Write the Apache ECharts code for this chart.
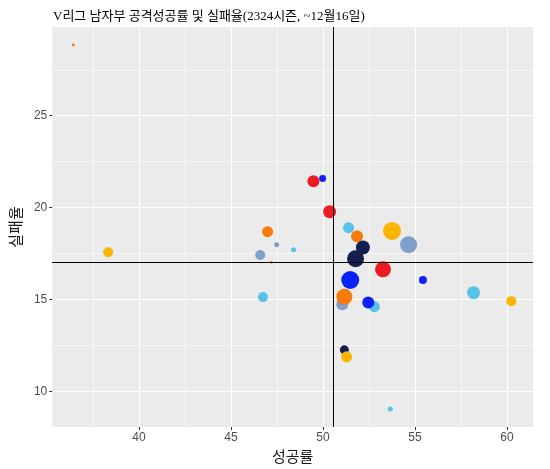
<!DOCTYPE html>
<html lang="ko">
<head>
    <meta charset="UTF-8">
    <title>V리그 남자부 공격성공률 및 실패율</title>
    <style>
        html, body { margin: 0; padding: 0; background: #fff; }
        #chart { width: 550px; height: 469px; }
    </style>
</head>
<body>
<div id="chart"></div>
<script src="https://cdn.jsdelivr.net/npm/echarts@6/dist/echarts.min.js"></script>
<script>
    // 선수별 공격 성공률 / 실패율 / 시도
    var team = ['OK', 'KB', 'KEPCO', 'SAMSUNG', 'KEPCO', 'OK', 'KAL', 'WOORI', 'KAL', 'OK',
        'WOORI', 'OK', 'KB', 'KAL', 'HYUNDAI', 'HYUNDAI', 'KEPCO', 'SAMSUNG', 'SAMSUNG', 'WOORI',
        'KAL', 'OK', 'WOORI', 'SAMSUNG', 'HYUNDAI', 'KB', 'WOORI', 'WOORI', 'KB'];
    var success = [36.43, 38.33, 49.48, 49.98, 50.36, 46.99, 47.48, 48.40, 46.59, 47.19,
        51.39, 51.85, 53.75, 54.65, 52.17, 51.77, 53.26, 55.43, 51.48, 46.74,
        51.05, 51.16, 52.79, 52.46, 51.16, 51.28, 53.66, 58.18, 60.23];
    var fail = [28.85, 17.57, 21.43, 21.58, 19.78, 18.69, 17.98, 17.71, 17.42, 17.02,
        18.91, 18.44, 18.73, 17.98, 17.83, 17.22, 16.64, 16.06, 16.06, 15.13,
        14.74, 15.15, 14.61, 14.83, 12.26, 11.88, 9.04, 15.37, 14.91];
    var attempts = [11, 123, 178, 60, 209, 149, 31, 31, 123, 11,
        149, 178, 400, 357, 242, 357, 316, 79, 400, 123,
        178, 316, 149, 178, 100, 149, 31, 209, 123];
    // 평균선
    var meanSuccess = 50.58;
    var meanFail = 17.0;

    var teamColor = {
        'KEPCO': '#ED1C24',
        'SAMSUNG': '#0A22F5',
        'HYUNDAI': '#141E50',
        'OK': '#F77B0B',
        'WOORI': '#57C1E8',
        'KAL': '#7EA1CC',
        'KB': '#F9B501'
    };

    var points = [];
    for (var i = 0; i < success.length; i++) {
        points.push([success[i], fail[i], attempts[i], team[i]]);
    }

    var myChart = echarts.init(document.getElementById('chart'), null, {renderer: 'canvas'});
    var option = {
        animation: false,
        title: {
            text: 'V리그 남자부 공격성공률 및 실패율(2324시즌, ~12월16일)',
            left: 48,
            top: 5,
            textStyle: {
                fontFamily: '"Liberation Serif", "Noto Sans CJK KR", serif',
                fontSize: 13,
                fontWeight: 'normal',
                color: '#000'
            }
        },
        grid: {
            left: 52,
            right: 17,
            top: 27,
            bottom: 42,
            show: true,
            backgroundColor: '#EBEBEB',
            borderWidth: 0
        },
        xAxis: {
            type: 'value',
            min: 35.29,
            max: 61.41,
            splitNumber: 5,
            name: '성공률',
            nameLocation: 'middle',
            nameGap: 21,
            nameTextStyle: {fontSize: 15, color: '#1a1a1a', fontFamily: '"Noto Sans CJK KR", sans-serif'},
            axisLine: {show: false},
            axisTick: {show: true, length: 3, lineStyle: {color: '#333', width: 1}, customValues: [40, 45, 50, 55, 60]},
            axisLabel: {
                color: '#4D4D4D', fontSize: 12, margin: 5, fontFamily: '"Liberation Sans", Arial, sans-serif',
                customValues: [40, 45, 50, 55, 60]
            },
            splitLine: {show: true, lineStyle: {color: '#fff', width: 1.1}},
            minorTick: {show: false, splitNumber: 2},
            minorSplitLine: {show: true, lineStyle: {color: '#fff', width: 0.6}}
        },
        yAxis: {
            type: 'value',
            min: 8.06,
            max: 29.83,
            splitNumber: 5,
            name: '실패율',
            nameLocation: 'middle',
            nameGap: 22,
            nameTextStyle: {fontSize: 15, color: '#1a1a1a', fontFamily: '"Noto Sans CJK KR", sans-serif'},
            axisLine: {show: false},
            axisTick: {show: true, length: 3, lineStyle: {color: '#333', width: 1}, customValues: [10, 15, 20, 25]},
            axisLabel: {
                color: '#4D4D4D', fontSize: 12, margin: 5, fontFamily: '"Liberation Sans", Arial, sans-serif',
                customValues: [10, 15, 20, 25]
            },
            splitLine: {show: true, lineStyle: {color: '#fff', width: 1.1}},
            minorTick: {show: false, splitNumber: 2},
            minorSplitLine: {show: true, lineStyle: {color: '#fff', width: 0.6}}
        },
        series: [
            {
                type: 'scatter',
                data: points,
                symbol: 'circle',
                symbolSize: function (v) {
                    return Math.sqrt(v[2]) * 0.9;
                },
                itemStyle: {
                    opacity: 1,
                    color: function (p) {
                        return teamColor[p.data[3]];
                    }
                },
                markLine: {
                    silent: true,
                    symbol: 'none',
                    label: {show: false},
                    lineStyle: {color: '#000', width: 1, type: 'solid'},
                    data: [
                        {xAxis: meanSuccess},
                        {yAxis: meanFail}
                    ]
                }
            }
        ]
    };
    myChart.setOption(option);
</script>
</body>
</html>
